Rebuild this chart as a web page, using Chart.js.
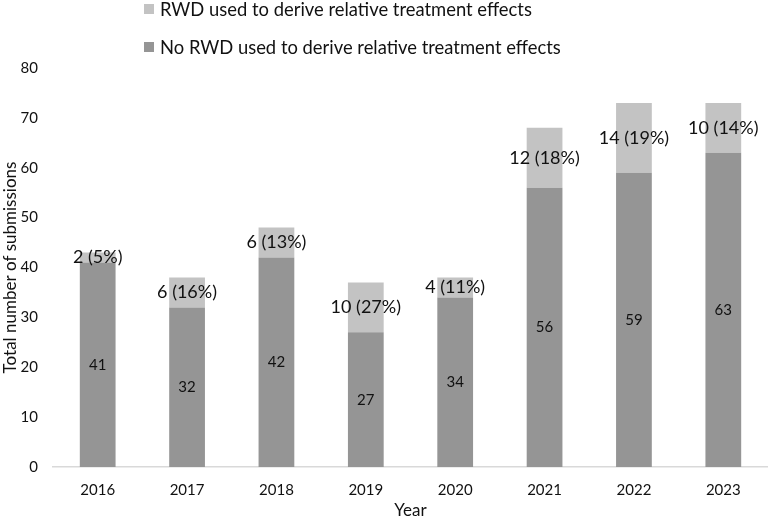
<!DOCTYPE html>
<html>
<head>
<meta charset="utf-8">
<script src="https://cdn.jsdelivr.net/npm/chart.js@4.4.1/dist/chart.umd.min.js"></script>
<style>
  html, body { margin: 0; padding: 0; background: #fff; }
  #wrap { width: 768px; height: 521px; }
</style>
</head>
<body>
<div id="wrap"><canvas id="chart"></canvas></div>
<script>
const years = ["2016", "2017", "2018", "2019", "2020", "2021", "2022", "2023"]
const noRwd = [41, 32, 42, 27, 34, 56, 59, 63]
const withRwd = [2, 6, 6, 10, 4, 12, 14, 10]

const legendNames = [
    "RWD used to derive relative treatment effects",
    "No RWD used to derive relative treatment effects"
]

const FONT = "Lato, 'Open Sans', sans-serif"
const DARK = "#959595"
const LIGHT = "#c3c3c3"
const INK = "#111111"

// writes the numbers inside each segment
const segmentLabels = {
    id: 'segmentLabels',
    afterDatasetsDraw(chart) {
        const { ctx } = chart
        ctx.save()
        ctx.fillStyle = INK
        ctx.textAlign = 'center'
        ctx.textBaseline = 'middle'

        chart.data.datasets.forEach((ds, i) => {
            const meta = chart.getDatasetMeta(i)
            meta.data.forEach((bar, j) => {
                const v = ds.data[j]
                const mid = (bar.y + bar.base) / 2
                let txt
                if (i === 0) {
                    ctx.font = "15px " + FONT
                    txt = String(v)
                } else {
                    ctx.font = "18px " + FONT
                    const total = noRwd[j] + withRwd[j]
                    txt = v + " (" + Math.round(v / total * 100) + "%)"
                }
                ctx.fillText(txt, bar.x, mid)
            })
        })
        ctx.restore()
    }
}

// two-row legend on top, like the original
const stackedLegend = {
    id: 'stackedLegend',
    afterDraw(chart) {
        const { ctx } = chart
        const rows = [
            { text: legendNames[0], color: LIGHT, y: 9 },
            { text: legendNames[1], color: DARK, y: 47 }
        ]
        ctx.save()
        ctx.font = "18.4px " + FONT
        ctx.textBaseline = 'middle'
        ctx.textAlign = 'left'
        rows.forEach(r => {
            ctx.fillStyle = r.color
            ctx.fillRect(144, r.y - 5, 10, 10)
            ctx.fillStyle = INK
            ctx.fillText(r.text, 160, r.y + 1)
        })
        ctx.restore()
    }
}

new Chart(document.getElementById('chart'), {
    type: 'bar',
    data: {
        labels: years,
        datasets: [
            {
                label: legendNames[1],
                data: noRwd,
                backgroundColor: DARK,
                categoryPercentage: 1,
                barPercentage: 0.4
            },
            {
                label: legendNames[0],
                data: withRwd,
                backgroundColor: LIGHT,
                categoryPercentage: 1,
                barPercentage: 0.4
            }
        ]
    },
    options: {
        responsive: true,
        maintainAspectRatio: false,
        animation: false,
        layout: { padding: { top: 68, right: 0, left: 0, bottom: 0 } },
        plugins: {
            legend: { display: false },
            tooltip: { enabled: false }
        },
        scales: {
            x: {
                stacked: true,
                grid: { display: false, drawTicks: false },
                border: { display: true, color: '#d9d9d9', width: 1.5 },
                ticks: { color: INK, font: { family: FONT, size: 15 }, padding: 14 },
                title: {
                    display: true,
                    text: 'Year',
                    color: INK,
                    font: { family: FONT, size: 17 },
                    padding: { top: 3, bottom: 0 }
                },
                afterFit(scale) { scale.height = 54 }
            },
            y: {
                stacked: true,
                min: 0,
                max: 80,
                grid: { display: false, drawTicks: false },
                border: { display: false },
                ticks: { stepSize: 10, color: INK, font: { family: FONT, size: 15 }, padding: 15 },
                title: {
                    display: true,
                    text: 'Total number of submissions',
                    color: INK,
                    font: { family: FONT, size: 17 },
                    padding: { top: 0, bottom: 2 }
                },
                afterFit(scale) { scale.width = 53 }
            }
        }
    },
    plugins: [segmentLabels, stackedLegend]
})
</script>
</body>
</html>
